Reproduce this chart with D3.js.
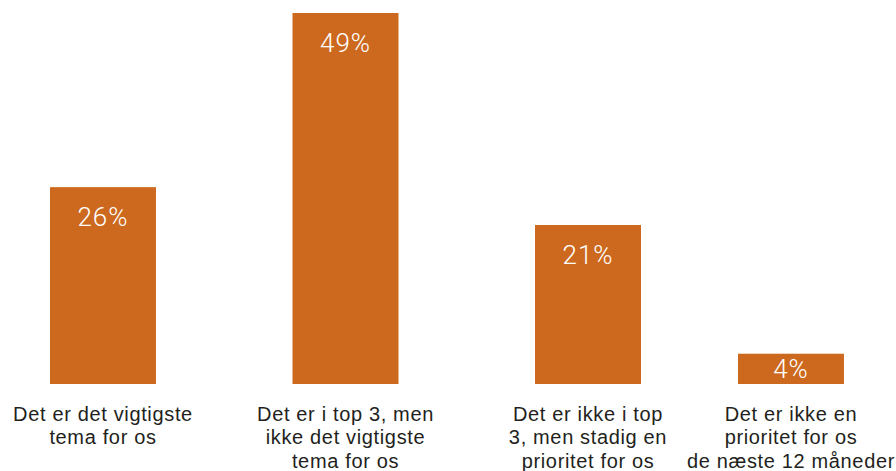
<!DOCTYPE html>
<html>
<head>
<meta charset="utf-8">
<script src="https://cdn.jsdelivr.net/npm/d3@7"></script>
<style>
  body { margin: 0; background: #fff; }
  svg { display: block; }
</style>
</head>
<body>
<div id="chart"></div>
<script>
// chart data
const categories = ["c1", "c2", "c3", "c4"];
const values = [26, 49, 21, 4];
const labels = [
    ["Det er det vigtigste", "tema for os"],
    ["Det er i top 3, men", "ikke det vigtigste", "tema for os"],
    ["Det er ikke i top", "3, men stadig en", "prioritet for os"],
    ["Det er ikke en", "prioritet for os", "de næste 12 måneder"]
];

const width = 896, height = 471;
const barColor = "#cc691e";

const svg = d3.select("#chart")
    .append("svg")
    .attr("width", width)
    .attr("height", height);

const x = d3.scaleBand()
    .domain(categories)
    .range([50, 883.5])
    .paddingInner(0.563)
    .paddingOuter(0);

const y = d3.scaleLinear()
    .domain([0, 49])
    .range([384, 13]);

const data = categories.map((c, i) => ({cat: c, value: values[i], lines: labels[i]}));

// category labels first, so we can measure them and keep them inside the page
const lineH = 23.3;
const labelG = svg.append("g");
const catText = labelG.selectAll("text")
    .data(data)
    .join("text")
    .attr("text-anchor", "middle")
    .attr("font-family", "'Liberation Sans', Arial, sans-serif")
    .attr("font-size", 20)
    .attr("letter-spacing", 0.65)
    .attr("fill", "#231f20");

catText.selectAll("tspan")
    .data(d => d.lines)
    .join("tspan")
    .attr("x", 0)
    .attr("y", (d, i) => 421 + i * lineH)
    .text(d => d);

// centre of each group; pushed left if its label would run off the right edge
data.forEach((d, i) => {
    const w = catText.nodes()[i].getBBox().width;
    d.cx = Math.min(x(d.cat) + x.bandwidth() / 2, width - 1 - w / 2);
});

catText.attr("transform", d => `translate(${d.cx},0)`);

svg.append("g")
    .selectAll("rect")
    .data(data)
    .join("rect")
    .attr("x", d => d.cx - x.bandwidth() / 2)
    .attr("y", d => y(d.value))
    .attr("width", x.bandwidth())
    .attr("height", d => y(0) - y(d.value))
    .attr("fill", barColor);

svg.append("g")
    .selectAll("text")
    .data(data)
    .join("text")
    .attr("x", d => d.cx)
    .attr("y", d => Math.min(y(d.value) + 38.5, (y(d.value) + y(0)) / 2 + 9.5))
    .attr("text-anchor", "middle")
    .attr("font-family", "Roboto, 'Liberation Sans', sans-serif")
    .attr("font-weight", 300)
    .attr("font-size", 26)
    .attr("letter-spacing", 1)
    .attr("fill", "#fff")
    .text(d => d.value + "%");
</script>
</body>
</html>
